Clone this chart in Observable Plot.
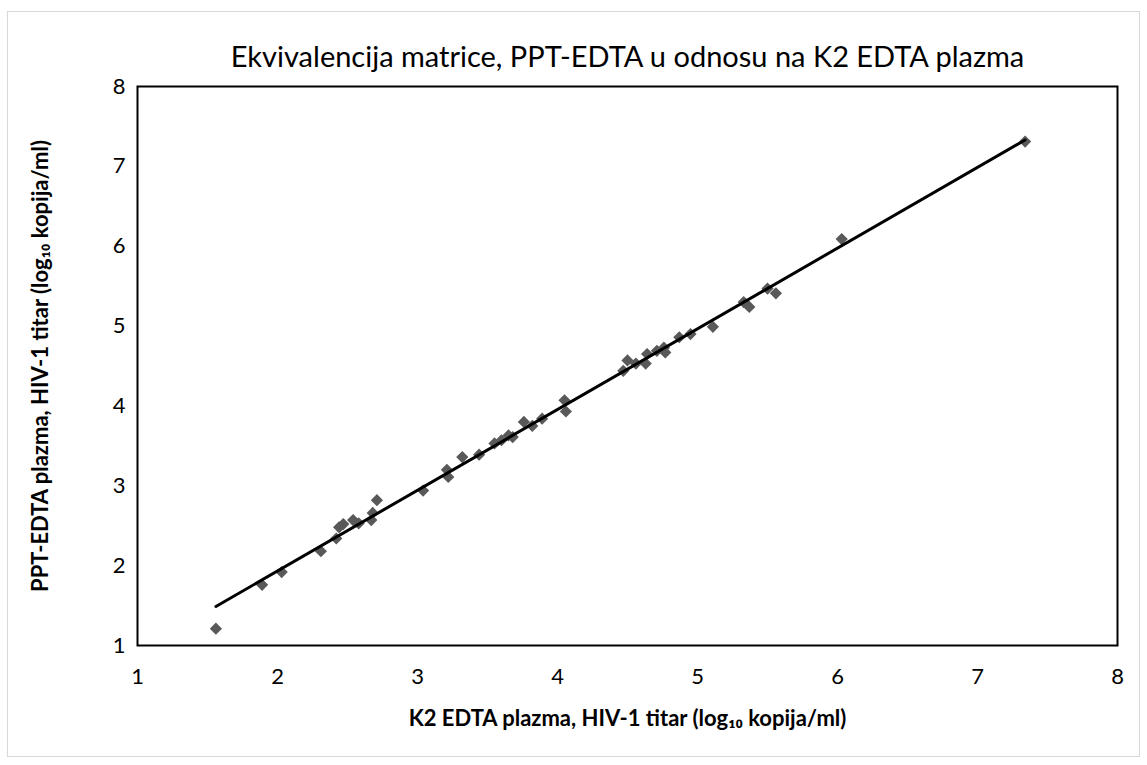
<!DOCTYPE html>
<html>
<head>
<meta charset="utf-8">
<script src="https://cdn.jsdelivr.net/npm/d3@7"></script>
<script src="https://cdn.jsdelivr.net/npm/@observablehq/plot@0.6"></script>
<style>
  html, body { margin: 0; padding: 0; background: #fff; }
  #wrap { position: relative; width: 1147px; height: 765px; }
  #border { position: absolute; left: 7px; top: 11px; width: 1133px; height: 746px; border: 1px solid #d9d9d9; box-sizing: border-box; pointer-events: none; }
  svg { font-family: Lato, "Open Sans", sans-serif; }
</style>
</head>
<body>
<div id="wrap"><div id="border"></div></div>
<script>
const k2 = [1.56, 1.89, 2.03, 2.31, 2.42, 2.44, 2.47, 2.54, 2.58, 2.67, 2.68, 2.71, 3.04, 3.21, 3.22, 3.32, 3.44, 3.55, 3.60, 3.65, 3.68, 3.76, 3.82, 3.89, 4.05, 4.06, 4.47, 4.50, 4.56, 4.63, 4.64, 4.71, 4.76, 4.77, 4.87, 4.95, 5.11, 5.33, 5.37, 5.50, 5.56, 6.03, 7.34];
const ppt = [1.21, 1.76, 1.92, 2.18, 2.34, 2.48, 2.52, 2.57, 2.53, 2.57, 2.66, 2.82, 2.94, 3.20, 3.11, 3.36, 3.39, 3.53, 3.57, 3.63, 3.61, 3.80, 3.75, 3.84, 4.07, 3.93, 4.44, 4.57, 4.53, 4.53, 4.65, 4.69, 4.73, 4.67, 4.86, 4.90, 4.99, 5.30, 5.24, 5.47, 5.41, 6.09, 7.31];
const ticks = [1, 2, 3, 4, 5, 6, 7, 8];
const title = "Ekvivalencija matrice, PPT-EDTA u odnosu na K2 EDTA plazma";
const xTitle = "K2 EDTA plazma, HIV-1 titar (log₁₀ kopija/ml)";
const yTitle = "PPT-EDTA plazma, HIV-1 titar (log₁₀ kopija/ml)";

const data = k2.map((x, i) => ({x, y: ppt[i]}));

const chart = Plot.plot({
  width: 1147,
  height: 765,
  marginLeft: 137,
  marginRight: 30,
  marginTop: 86,
  marginBottom: 120,
  style: {background: "transparent", overflow: "visible"},
  x: {domain: [1, 8], ticks: ticks, label: null},
  y: {domain: [1, 8], ticks: ticks, label: null},
  marks: [
    Plot.axisX({ticks: ticks, tickFormat: d => String(d), tickSize: 0, tickPadding: 23, fontSize: 22, label: null, fill: "#000"}),
    Plot.axisY({ticks: ticks, tickFormat: d => String(d), tickSize: 0, tickPadding: 12, fontSize: 22, label: null, fill: "#000"}),
    Plot.frame({stroke: "#000", strokeWidth: 2}),
    Plot.dot(data, {x: "x", y: "y", symbol: "diamond2", r: 5.5, fill: "#595959", stroke: "none"}),
    Plot.linearRegressionY(data, {x: "x", y: "y", ci: 0, stroke: "#000", strokeWidth: 3}),
    Plot.text([title], {frameAnchor: "top", lineAnchor: "middle", dy: -29, fontSize: 29, fill: "#000"}),
    Plot.text([xTitle], {frameAnchor: "bottom", lineAnchor: "middle", dy: 73, fontSize: 22, fontWeight: "bold", fill: "#000"}),
    Plot.text([yTitle], {frameAnchor: "left", textAnchor: "middle", lineAnchor: "middle", dx: -97, rotate: -90, fontSize: 22, fontWeight: "bold", fill: "#000"})
  ]
});
document.getElementById("wrap").appendChild(chart);
chart.style.position = "absolute";
chart.style.left = "0px";
chart.style.top = "0px";
</script>
</body>
</html>
